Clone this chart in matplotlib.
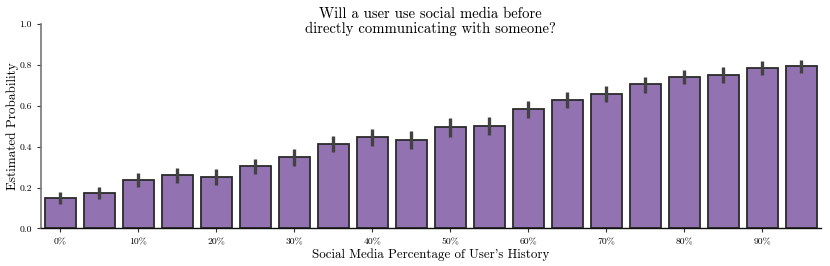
import numpy as np
import matplotlib
matplotlib.use("Agg")
import matplotlib.pyplot as plt

# =====================================================
# Data
# =====================================================
bins = list(range(20))
probability = [0.149, 0.173, 0.235, 0.261, 0.253, 0.307, 0.349, 0.414, 0.447, 0.433,
               0.496, 0.504, 0.586, 0.631, 0.657, 0.706, 0.742, 0.753, 0.786, 0.793]
ci_low = [0.122, 0.142, 0.201, 0.222, 0.215, 0.269, 0.308, 0.375, 0.406, 0.391,
          0.447, 0.460, 0.543, 0.590, 0.618, 0.664, 0.705, 0.714, 0.753, 0.759]
ci_high = [0.178, 0.204, 0.271, 0.294, 0.289, 0.341, 0.390, 0.453, 0.489, 0.475,
           0.540, 0.546, 0.626, 0.669, 0.697, 0.744, 0.778, 0.791, 0.819, 0.826]
tick_labels = ["0%", "10%", "20%", "30%", "40%", "50%", "60%", "70%", "80%", "90%"]

# =====================================================
# Style
# =====================================================
plt.rcParams["font.family"] = ["cmr10", "DejaVu Serif"]
plt.rcParams["mathtext.fontset"] = "cm"
plt.rcParams["axes.formatter.use_mathtext"] = True
plt.rcParams["axes.unicode_minus"] = False

# =====================================================
# Plot
# =====================================================
fig, ax = plt.subplots(figsize=(8.3, 2.66), dpi=100)
fig.subplots_adjust(left=0.0494, right=0.989, top=0.909, bottom=0.141)

x = np.array(bins)
prob = np.array(probability)
yerr = np.vstack([prob - np.array(ci_low), np.array(ci_high) - prob])

ax.bar(x, prob, width=0.8, color="#9372b2", edgecolor="#2a2a2a", linewidth=1.3, zorder=2)
ax.errorbar(x, prob, yerr=yerr, fmt="none", ecolor="#424242", elinewidth=2.4, capsize=0, zorder=3)

ax.set_xlim(-0.5, 19.5)
ax.set_ylim(0, 1.0)
ax.set_xticks(x[::2])
ax.set_xticklabels(tick_labels)
ax.set_yticks([0.0, 0.2, 0.4, 0.6, 0.8, 1.0])
ax.set_yticklabels(["0.0", "0.2", "0.4", "0.6", "0.8", "1.0"])
ax.tick_params(labelsize=7, length=3, width=0.8, color="#333333")

ax.spines["top"].set_visible(False)
ax.spines["right"].set_visible(False)
ax.spines["left"].set_color("#777777")
ax.spines["left"].set_linewidth(1.2)
ax.spines["bottom"].set_color("#111111")
ax.spines["bottom"].set_linewidth(1.0)

# title sits partly inside the axes area, as in the reference
fig.text(0.519, 1 - 21.5 / 266, "Will a user use social media before\ndirectly communicating with someone?",
         ha="center", va="center", fontsize=10.6, linespacing=1.08)
ax.set_xlabel("Social Media Percentage of User's History", fontsize=9.3, labelpad=2)
ax.set_ylabel("Estimated Probability", fontsize=9.5, labelpad=0)

plt.savefig("out.png", dpi=100)
plt.close()
